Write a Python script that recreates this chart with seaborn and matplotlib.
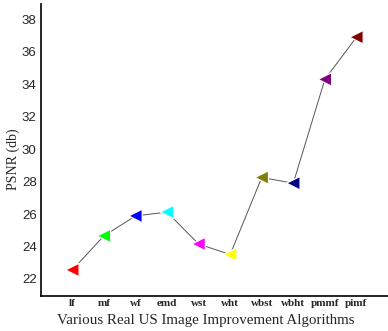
import matplotlib
matplotlib.use("Agg")
import matplotlib.pyplot as plt
import seaborn as sns
import pandas as pd

# ── Data ────────────────────────────────────────────────
algorithms = ["lf", "mf", "wf", "emd", "wst", "wht", "wbst", "wbht", "pmmf", "pimf"]
psnr = [22.55, 24.65, 25.88, 26.12, 24.15, 23.5, 28.25, 27.9, 34.3, 36.9]
colors = ["#ff0000", "#00ff00", "#0000ff", "#00ffff", "#ff00ff",
          "#ffff00", "#808000", "#000080", "#800080", "#800000"]
y_ticks = [22, 24, 26, 28, 30, 32, 34, 36, 38]

df = pd.DataFrame({"alg": algorithms, "psnr": psnr, "idx": range(len(algorithms))})

sns.set_style("white")

fig = plt.figure(figsize=(3.88, 3.31), dpi=100)
ax = fig.add_axes([0.105, 0.106, 0.895, 0.882])

sns.lineplot(data=df, x="idx", y="psnr", color="#555555", linewidth=0.7, ax=ax)
sns.scatterplot(data=df, x="idx", y="psnr", hue="alg", palette=colors,
                marker="<", s=95, edgecolor="white", linewidth=0.9,
                legend=False, ax=ax, zorder=3)

ax.set_xlim(-1, 10)
ax.set_ylim(20.95, 38.95)
ax.set_xticks(range(len(algorithms)))
ax.set_xticklabels(algorithms, family="Liberation Serif", fontweight="bold", fontsize=8)
ax.set_yticks(y_ticks)
ax.set_yticklabels([str(v) for v in y_ticks], family="Liberation Sans", fontsize=9.5)
ax.tick_params(axis="x", length=0, pad=2)
ax.tick_params(axis="y", length=0, pad=3)

ax.set_xlabel("Various Real US Image Improvement Algorithms",
              family="Liberation Serif", fontsize=10.8)
ax.xaxis.set_label_coords(0.474, -0.062)
ax.set_ylabel("PSNR (db)", family="Liberation Serif", fontsize=10, va="center")
ax.yaxis.set_label_coords(-0.078, 0.469)

sns.despine(ax=ax)
for s in ["left", "bottom"]:
    ax.spines[s].set_color("black")
    ax.spines[s].set_linewidth(1.2)

fig.savefig("out.png", dpi=100)
